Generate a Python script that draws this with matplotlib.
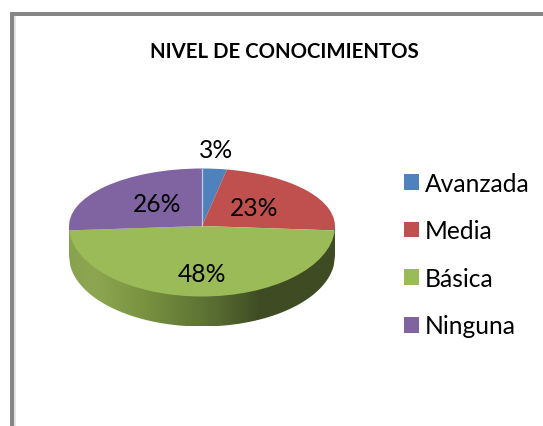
import matplotlib
matplotlib.use("Agg")
import matplotlib.pyplot as plt
import numpy as np
from matplotlib.colors import LinearSegmentedColormap
from matplotlib.patches import Patch, Polygon, Rectangle

plt.rcParams['font.family'] = ['Lato', 'DejaVu Sans']

title = "NIVEL DE CONOCIMIENTOS"
categories = ["Avanzada", "Media", "Básica", "Ninguna"]
values = [3, 23, 48, 26]
colors = ["#4F81BD", "#C0504D", "#9BBB59", "#8064A2"]

W, H = 543, 427
# pie geometry, in pixels of the picture
cx, cy = 202, 227
rx, ry_top, ry_bot = 133, 57.5, 70.5
depth = 30
label_pos = [(216, 151), (254, 209), (202, 275), (157, 205)]

fig = plt.figure(figsize=(W / 100, H / 100), dpi=100, facecolor="white")

# background axes in pixel coordinates: frame and side wall of the pie
bg = fig.add_axes([0, 0, 1, 1])
bg.axis("off")

bg.add_patch(Rectangle((10, 13), 4, H - 13, fc="#868686", ec="none"))
bg.add_patch(Rectangle((10, 13), W - 10, 3.5, fc="#868686", ec="none"))
bg.add_patch(Rectangle((14, 16.5), 1.5, H, fc="#E4E4E4", ec="none"))

# the wall is the lower half of the ellipse pushed down
xs = np.linspace(cx - rx, cx + rx, 200)
edge = cy + ry_bot * np.sqrt(np.clip(1 - ((xs - cx) / rx) ** 2, 0, 1))
wall_pts = np.vstack([np.column_stack([xs, edge - 3]),
                      np.column_stack([xs, edge + depth])[::-1]])
wall_cmap = LinearSegmentedColormap.from_list("wall", [
    (0.00, "#88A24E"), (0.10, "#8CA651"), (0.30, "#76903F"),
    (0.55, "#586C33"), (0.72, "#3F4C23"), (1.00, "#3F4B22")])
grad = bg.imshow(np.linspace(0, 1, 256).reshape(1, -1), cmap=wall_cmap, aspect="auto",
                 extent=(cx - rx, cx + rx, cy + ry_bot + depth, cy - 5), zorder=1)
clip = Polygon(wall_pts, closed=True, transform=bg.transData, fc="none", ec="none")
bg.add_patch(clip)
grad.set_clip_path(clip)
bg.set_xlim(0, W)
bg.set_ylim(H, 0)

# pie axes on top, y scale squashed differently above and below the centre
top = cy - ry_top
bottom = cy + ry_bot
ax = fig.add_axes([(cx - rx) / W, (H - bottom) / H, 2 * rx / W, (bottom - top) / H])
ax.patch.set_alpha(0)
wedges, _ = ax.pie(values, colors=colors, startangle=90, counterclock=False, radius=1,
                   wedgeprops={"linewidth": 0})
ax.set_aspect("auto")
ax.set_yscale("function", functions=(
    lambda y: np.where(y > 0, y * ry_top, y * ry_bot),
    lambda v: np.where(v > 0, v / ry_top, v / ry_bot)))
ax.set_xlim(-1, 1)
ax.set_ylim(-1, 1)
ax.axis("off")
for w in wedges:
    w.set_clip_on(False)

# thin light seam at 12 o'clock
ax.plot([0, 0], [0, 1], color="#B9CDE5", lw=0.9, clip_on=False)

fig.text(284 / W, 1 - 52 / H, title, ha="center", va="center",
         fontsize=14.7, fontweight="bold", color="black")

for v, (x, y) in zip(values, label_pos):
    fig.text(x / W, 1 - y / H, f"{v}%", ha="center", va="center", fontsize=17.7, color="black")

handles = [Patch(fc=c, ec="none") for c in colors]
fig.legend(handles, categories, loc="center left", bbox_to_anchor=(404 / W, 1 - 255.5 / H),
           frameon=False, fontsize=17.7, labelspacing=1.0, handlelength=0.61,
           handleheight=0.61, handletextpad=0.24, borderpad=0, borderaxespad=0)

fig.savefig("out.png", dpi=100)
